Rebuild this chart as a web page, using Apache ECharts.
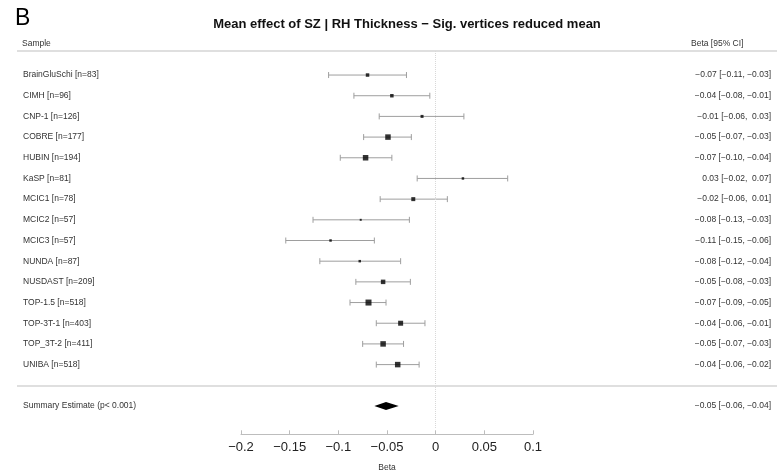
<!DOCTYPE html>
<html lang="en">
<head>
    <meta charset="UTF-8">
    <script type="text/javascript" src="https://cdn.jsdelivr.net/npm/echarts@6/dist/echarts.min.js"></script>
    <style>
        html, body { margin: 0; padding: 0; background: #fff; }
    </style>
</head>
<body>
    <div id="main" style="height: 474px;width: 777px"></div>
    <script type="text/javascript">
        // studies (top to bottom), last two rows = spacer + summary
        var samples = ['BrainGluSchi [n=83]', 'CIMH [n=96]', 'CNP-1 [n=126]', 'COBRE [n=177]', 'HUBIN [n=194]',
            'KaSP [n=81]', 'MCIC1 [n=78]', 'MCIC2 [n=57]', 'MCIC3 [n=57]', 'NUNDA [n=87]', 'NUSDAST [n=209]',
            'TOP-1.5 [n=518]', 'TOP-3T-1 [n=403]', 'TOP_3T-2 [n=411]', 'UNIBA [n=518]', '', 'Summary Estimate (p< 0.001)'];
        var beta  = [-0.070, -0.045, -0.014, -0.049, -0.072, 0.028, -0.023, -0.077, -0.108, -0.078, -0.054, -0.069, -0.036, -0.054, -0.039];
        var lower = [-0.110, -0.084, -0.058, -0.074, -0.098, -0.019, -0.057, -0.126, -0.154, -0.119, -0.082, -0.088, -0.061, -0.075, -0.061];
        var upper = [-0.030, -0.006, 0.029, -0.025, -0.045, 0.074, 0.012, -0.027, -0.063, -0.036, -0.026, -0.051, -0.011, -0.033, -0.017];
        var weight = [3.5, 3.5, 3, 5.5, 5.5, 2.5, 4, 2, 2.5, 2.5, 4.5, 6, 5, 5.5, 5.5];
        var ciText = ['\u22120.07 [\u22120.11, \u22120.03]', '\u22120.04 [\u22120.08, \u22120.01]', '\u22120.01 [\u22120.06,  0.03]',
            '\u22120.05 [\u22120.07, \u22120.03]', '\u22120.07 [\u22120.10, \u22120.04]', '0.03 [\u22120.02,  0.07]',
            '\u22120.02 [\u22120.06,  0.01]', '\u22120.08 [\u22120.13, \u22120.03]', '\u22120.11 [\u22120.15, \u22120.06]',
            '\u22120.08 [\u22120.12, \u22120.04]', '\u22120.05 [\u22120.08, \u22120.03]', '\u22120.07 [\u22120.09, \u22120.05]',
            '\u22120.04 [\u22120.06, \u22120.01]', '\u22120.05 [\u22120.07, \u22120.03]', '\u22120.04 [\u22120.06, \u22120.02]',
            '', '\u22120.05 [\u22120.06, \u22120.04]'];
        // summary: lower, estimate, upper
        var summary = [-0.063, -0.051, -0.038];
        var xTicks = [-0.2, 0.1, 0.05];

        var FONT = 'Liberation Sans, Arial, sans-serif';
        var SUMMARY_ROW = samples.length - 1;

        var ciData = [], ptData = [];
        for (var i = 0; i < beta.length; i++) {
            ciData.push([lower[i], upper[i], i]);
            ptData.push([beta[i], i]);
        }

        var myChart = echarts.init(document.getElementById('main'), null, {renderer: 'canvas'});
        var option = {
            animation: false,
            textStyle: { fontFamily: FONT },
            title: [
                { text: 'B', left: 10, top: 2, textStyle: { fontSize: 23, fontWeight: 'normal', color: '#000', fontFamily: FONT } },
                { text: 'Mean effect of SZ | RH Thickness \u2212 Sig. vertices reduced mean', left: 402, top: 13, textAlign: 'center',
                  textStyle: { fontSize: 13, fontWeight: 'bold', color: '#111', fontFamily: FONT } }
            ],
            graphic: [
                { type: 'text', left: 22, top: 39, style: { text: 'Sample', fontSize: 8.5, fill: '#333', fontFamily: FONT } },
                { type: 'text', left: 691, top: 39, style: { text: 'Beta [95% CI]', fontSize: 8.5, fill: '#333', fontFamily: FONT } },
                { type: 'line', shape: { x1: 17, y1: 51, x2: 777, y2: 51 }, style: { stroke: '#d4d4d4', lineWidth: 1.6 } },
                { type: 'line', shape: { x1: 17, y1: 386, x2: 777, y2: 386 }, style: { stroke: '#d4d4d4', lineWidth: 1.6 } }
            ],
            grid: [
                // keep the grid where it is, labels sit far outside it on purpose
                { left: 241, right: 244, top: 64.7, bottom: 57.7, outerBoundsMode: 'none' },
                { left: 241, right: 244, top: 51, bottom: 46, outerBoundsMode: 'none' }
            ],
            xAxis: [
                {
                    type: 'value', gridIndex: 0, min: xTicks[0], max: xTicks[1], interval: xTicks[2],
                    offset: 18,
                    name: 'Beta', nameLocation: 'middle', nameGap: 29,
                    nameTextStyle: { fontSize: 8.5, color: '#333' },
                    axisLine: { show: true, lineStyle: { color: '#bdbdbd', width: 1 } },
                    axisTick: { show: true, inside: true, length: 4, lineStyle: { color: '#bdbdbd' } },
                    axisLabel: { fontSize: 13, color: '#222', margin: 7,
                        formatter: function (v) { return String(parseFloat(v.toFixed(2))).replace('-', '\u2212'); } },
                    splitLine: { show: false }
                },
                { type: 'value', gridIndex: 1, min: xTicks[0], max: xTicks[1], show: false }
            ],
            yAxis: [
                {
                    type: 'category', gridIndex: 0, data: samples, inverse: true, position: 'left',
                    axisLine: { show: false }, axisTick: { show: false },
                    axisLabel: { align: 'left', margin: 218, fontSize: 8.5, color: '#333', interval: 0 }
                },
                {
                    type: 'category', gridIndex: 0, data: samples, inverse: true, position: 'right',
                    axisLine: { show: false }, axisTick: { show: false },
                    axisLabel: { align: 'right', margin: 238, fontSize: 8.5, color: '#333', interval: 0,
                        formatter: function (v, idx) { return ciText[idx]; } }
                },
                { type: 'value', gridIndex: 1, min: 0, max: 1, show: false }
            ],
            series: [
                {
                    // zero reference line
                    type: 'scatter', xAxisIndex: 1, yAxisIndex: 2, data: [], silent: true,
                    markLine: {
                        symbol: 'none', silent: true, label: { show: false },
                        lineStyle: { color: '#d8d8d8', type: 'dotted', width: 1 },
                        data: [{ xAxis: 0 }]
                    }
                },
                {
                    type: 'custom', xAxisIndex: 0, yAxisIndex: 0, data: ciData,
                    encode: { x: [0, 1], y: 2 },
                    renderItem: function (params, api) {
                        var y = api.value(2);
                        var a = api.coord([api.value(0), y]);
                        var b = api.coord([api.value(1), y]);
                        var st = { stroke: '#9e9e9e', lineWidth: 1 };
                        return {
                            type: 'group',
                            children: [
                                { type: 'line', shape: { x1: a[0], y1: a[1], x2: b[0], y2: b[1] }, style: st },
                                { type: 'line', shape: { x1: a[0], y1: a[1] - 3, x2: a[0], y2: a[1] + 3 }, style: st },
                                { type: 'line', shape: { x1: b[0], y1: b[1] - 3, x2: b[0], y2: b[1] + 3 }, style: st }
                            ]
                        };
                    }
                },
                {
                    type: 'scatter', xAxisIndex: 0, yAxisIndex: 0, data: ptData, symbol: 'rect',
                    symbolSize: function (val, params) { return weight[params.dataIndex]; },
                    itemStyle: { color: '#000' }
                },
                {
                    // summary diamond
                    type: 'custom', xAxisIndex: 0, yAxisIndex: 0, data: [[summary[0], summary[1], summary[2], SUMMARY_ROW]],
                    encode: { x: [0, 2], y: 3 },
                    renderItem: function (params, api) {
                        var y = api.value(3);
                        var l = api.coord([api.value(0), y]);
                        var m = api.coord([api.value(1), y]);
                        var r = api.coord([api.value(2), y]);
                        return {
                            type: 'polygon',
                            shape: { points: [[l[0], l[1]], [m[0], m[1] - 4], [r[0], r[1]], [m[0], m[1] + 4]] },
                            style: { fill: '#000' }
                        };
                    }
                }
            ]
        };
        myChart.setOption(option);
    </script>
</body>
</html>
